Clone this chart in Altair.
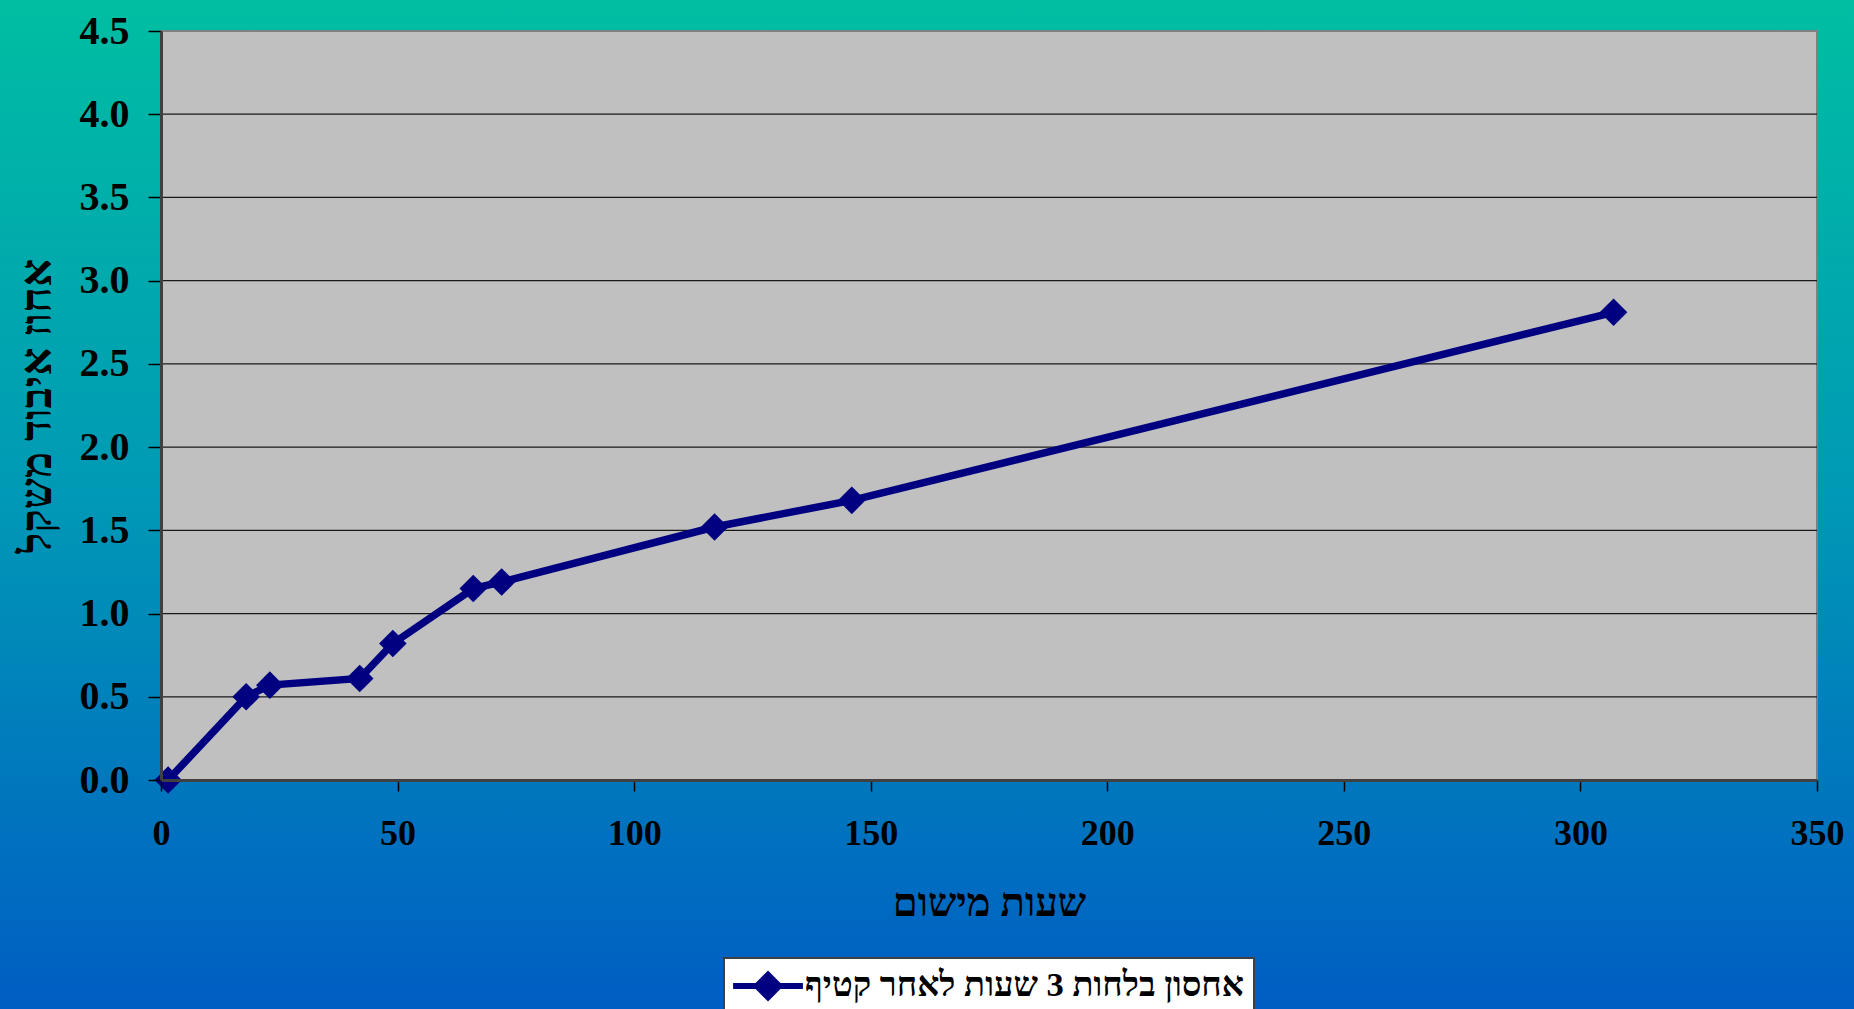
import altair as alt
import pandas as pd

# Storage hours vs. weight loss (%)
hours = [1.5, 18, 23, 42, 49, 66, 72, 117, 146, 307]
loss = [0.0, 0.50, 0.57, 0.61, 0.82, 1.15, 1.19, 1.52, 1.68, 2.81]
series_name = "אחסון בלחות 3 שעות לאחר קטיף"

y_ticks = [0.0, 0.5, 1.0, 1.5, 2.0, 2.5, 3.0, 3.5, 4.0, 4.5]
x_ticks = [0, 50, 100, 150, 200, 250, 300, 350]
grid_vals = [0.5, 1.0, 1.5, 2.0, 2.5, 3.0, 3.5, 4.0]

x_title = "שעות מישום"
y_title = "אחוז איבוד משקל"

W, H = 1656, 749
PAD = {"left": 161, "top": 31, "right": 37, "bottom": 229}
NAVY = "#000080"
FONT = "Liberation Serif"

df = pd.DataFrame({"hours": hours, "loss": loss, "series": [series_name] * len(hours)})
grid_df = pd.DataFrame({"loss": grid_vals})

x_scale = alt.Scale(domain=[0, 350], nice=False)
y_scale = alt.Scale(domain=[0, 4.5], nice=False)

x_axis = alt.Axis(
    values=x_ticks, format="d", title=x_title,
    labelFont=FONT, labelFontSize=36, labelFontWeight="bold", labelColor="black",
    tickSize=11, tickColor="black", tickWidth=1.5,
    domainColor="#404040", domainWidth=3,
    labelPadding=25, labelFlush=False, labelOverlap=False,
    titleFont=FONT, titleFontSize=40, titleFontWeight="bold", titleColor="black",
    titleX=W / 2, titleY=123, titleBaseline="middle",
    grid=False, zindex=1,
)
y_axis = alt.Axis(
    values=y_ticks, format=".1f", title=y_title,
    labelFont=FONT, labelFontSize=40, labelFontWeight="bold", labelColor="black",
    tickSize=13, tickColor="black", tickWidth=1.5,
    domainColor="#404040", domainWidth=3,
    labelPadding=19, labelFlush=False, labelOverlap=False,
    titleFont=FONT, titleFontSize=44, titleFontWeight="bold", titleColor="black",
    titleX=-124, titleY=H / 2, titleBaseline="middle", titleAngle=-90,
    grid=False, zindex=1,
)

# page background gradient
bg = alt.Chart(alt.Data(values=[{}])).mark_rect(
    color=alt.LinearGradient(
        gradient="linear", x1=0, x2=0, y1=0, y2=1,
        stops=[
            alt.GradientStop(color="#00BEA2", offset=0),
            alt.GradientStop(color="#0098B6", offset=0.5),
            alt.GradientStop(color="#005DC3", offset=1),
        ],
    )
).encode(
    x=alt.value(-PAD["left"]), x2=alt.value(W + PAD["right"]),
    y=alt.value(-PAD["top"]), y2=alt.value(H + PAD["bottom"]),
)

# grey plot area with a light frame
plot_bg = alt.Chart(alt.Data(values=[{}])).mark_rect(
    color="#C0C0C0", stroke="#808080", strokeWidth=2
).encode(x=alt.value(0), x2=alt.value(W), y=alt.value(0), y2=alt.value(H))

grid = alt.Chart(grid_df).mark_rule(color="#1a1a1a", strokeWidth=1.2).encode(
    y=alt.Y("loss:Q", scale=y_scale, axis=y_axis),
    x=alt.value(0), x2=alt.value(W),
)

# legend swatch: line segment with a diamond marker
swatch = ("M-1.05,-0.17 L0.2,-0.17 L0.89,-0.86 L1.58,-0.17 L2.83,-0.17 "
          "L2.83,0.17 L1.58,0.17 L0.89,0.86 L0.2,0.17 L-1.05,0.17 Z")

legend = alt.Legend(
    title=None,
    orient="none",
    legendX=563,
    legendY=927,
    fillColor="white",
    strokeColor="#404040",
    padding=10,
    labelFont=FONT,
    labelFontSize=34.5,
    labelFontWeight="bold",
    labelColor="black",
    labelLimit=0,
    labelOffset=35,
    symbolType=swatch,
    symbolSize=1296,
    symbolFillColor=NAVY,
    symbolStrokeColor=NAVY,
    symbolStrokeWidth=0,
)

line = alt.Chart(df).mark_line(strokeWidth=7.5).encode(
    x=alt.X("hours:Q", scale=x_scale, axis=x_axis),
    y=alt.Y("loss:Q", scale=y_scale, axis=y_axis),
    color=alt.Color("series:N", scale=alt.Scale(range=[NAVY]), legend=legend),
)

points = alt.Chart(df).mark_point(
    shape="diamond", filled=True, size=760, opacity=1, color=NAVY
).encode(
    x=alt.X("hours:Q", scale=x_scale, axis=x_axis),
    y=alt.Y("loss:Q", scale=y_scale, axis=y_axis),
)

chart = alt.layer(bg, plot_bg, grid, line, points).properties(
    width=W, height=H,
    padding=PAD,
    autosize=alt.AutoSizeParams(type="none"),
).configure_view(strokeWidth=0).configure_legend(strokeWidth=2)

chart.save("out.html", embed_options={"renderer": "svg", "actions": False})
